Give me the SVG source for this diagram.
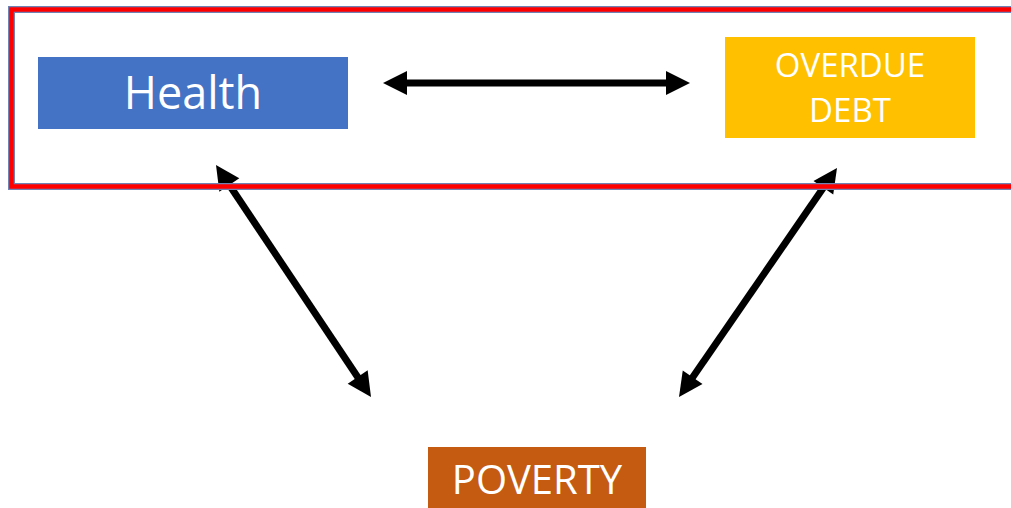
<svg xmlns="http://www.w3.org/2000/svg" width="1011" height="508" viewBox="0 0 1011 508">
  <style>
    .lbl { font-family: "Open Sans", "Liberation Sans", sans-serif; fill: #ffffff; text-anchor: middle; }
    .conn { stroke: #000000; stroke-width: 7; fill: none; marker-start: url(#ah); marker-end: url(#ah); }
  </style>
  <defs>
    <marker id="ah" markerUnits="userSpaceOnUse" viewBox="0 -13 26 26" refX="2" refY="0" markerWidth="26" markerHeight="26" orient="auto-start-reverse" overflow="visible">
      <path d="M0,-12 L24,0 L0,12 z" fill="#000000"/>
    </marker>
  </defs>
  <rect x="0" y="0" width="1011" height="508" fill="#ffffff"/>

  <g id="health">
    <rect x="38" y="57" width="310" height="72" fill="#4472C4"/>
    <text class="lbl" x="193" y="109" font-size="45">Health</text>
  </g>

  <g id="overdue-debt">
    <rect x="725" y="37" width="250" height="101" fill="#FFC000"/>
    <text class="lbl" x="850" y="77" font-size="33">OVERDUE</text>
    <text class="lbl" x="850" y="122" font-size="33">DEBT</text>
  </g>

  <g id="poverty">
    <rect x="428" y="447" width="218" height="61" fill="#C55A11"/>
    <text class="lbl" x="537" y="494" font-size="40">POVERTY</text>
  </g>

  <g id="connectors">
    <line class="conn" x1="405" y1="83" x2="668" y2="83"/>
    <line class="conn" x1="228.2" y1="183.3" x2="358.8" y2="378.7"/>
    <line class="conn" x1="824.5" y1="186.1" x2="691.5" y2="378.9"/>
  </g>

  <g id="frame">
    <rect x="11.5" y="9.5" width="1010" height="177" fill="none" stroke="#7083B5" stroke-width="7"/>
    <rect x="11.5" y="9.5" width="1010" height="177" fill="none" stroke="#FF0000" stroke-width="4.5"/>
  </g>
</svg>
